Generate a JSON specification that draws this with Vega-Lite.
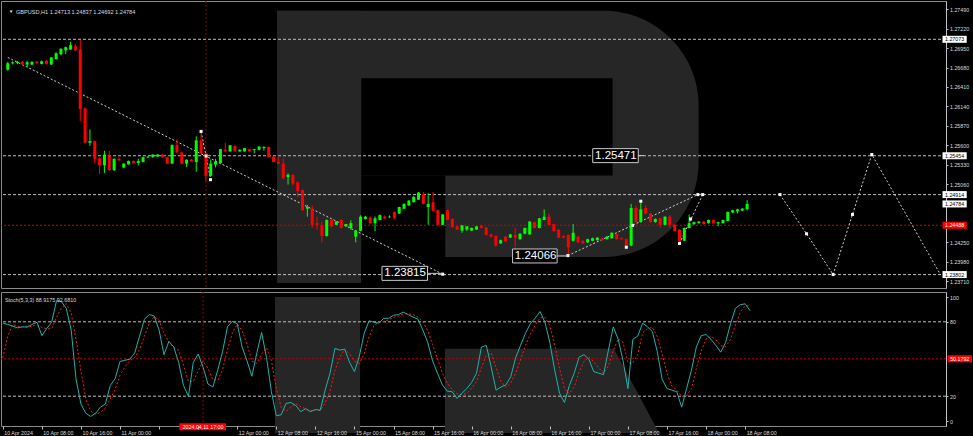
{
"$schema": "https://vega.github.io/schema/vega-lite/v6.json",
"background": "#000000",
"padding": 0,
"spacing": 2,
"config": {"view": {"stroke": "#8a8a8a", "strokeWidth": 1}, "font": "Liberation Sans", "axis": {"grid": false}},
"datasets": {
"candles": [
{"i":0,"o":1.26651,"h":1.26758,"l":1.26637,"c":1.26740},
{"i":1,"o":1.26738,"h":1.26765,"l":1.26724,"c":1.26751},
{"i":2,"o":1.26744,"h":1.26771,"l":1.26731,"c":1.26754},
{"i":3,"o":1.26758,"h":1.26771,"l":1.26718,"c":1.26731},
{"i":4,"o":1.26722,"h":1.26775,"l":1.26687,"c":1.26754},
{"i":5,"o":1.26722,"h":1.26771,"l":1.26711,"c":1.26758},
{"i":6,"o":1.26762,"h":1.26771,"l":1.26731,"c":1.26740},
{"i":7,"o":1.26731,"h":1.26778,"l":1.26724,"c":1.26767},
{"i":8,"o":1.26775,"h":1.26785,"l":1.26724,"c":1.26731},
{"i":9,"o":1.26722,"h":1.26825,"l":1.26718,"c":1.26821},
{"i":10,"o":1.26798,"h":1.26892,"l":1.26791,"c":1.26879},
{"i":11,"o":1.26865,"h":1.26946,"l":1.26852,"c":1.26942},
{"i":12,"o":1.26919,"h":1.26972,"l":1.26865,"c":1.26963},
{"i":13,"o":1.26932,"h":1.27036,"l":1.26926,"c":1.26990},
{"i":14,"o":1.26977,"h":1.27009,"l":1.26912,"c":1.26919},
{"i":15,"o":1.26932,"h":1.27066,"l":1.25935,"c":1.26104},
{"i":16,"o":1.26114,"h":1.26127,"l":1.25631,"c":1.25635},
{"i":17,"o":1.25635,"h":1.25819,"l":1.25591,"c":1.25658},
{"i":18,"o":1.25658,"h":1.25665,"l":1.25349,"c":1.25412},
{"i":19,"o":1.25420,"h":1.25430,"l":1.25201,"c":1.25322},
{"i":20,"o":1.25322,"h":1.25523,"l":1.25215,"c":1.25470},
{"i":21,"o":1.25456,"h":1.25523,"l":1.25242,"c":1.25255},
{"i":22,"o":1.25255,"h":1.25416,"l":1.25242,"c":1.25412},
{"i":23,"o":1.25412,"h":1.25430,"l":1.25382,"c":1.25389},
{"i":24,"o":1.25291,"h":1.25349,"l":1.25282,"c":1.25345},
{"i":25,"o":1.25336,"h":1.25389,"l":1.25329,"c":1.25380},
{"i":26,"o":1.25380,"h":1.25389,"l":1.25349,"c":1.25353},
{"i":27,"o":1.25353,"h":1.25412,"l":1.25322,"c":1.25380},
{"i":28,"o":1.25366,"h":1.25443,"l":1.25362,"c":1.25433},
{"i":29,"o":1.25431,"h":1.25450,"l":1.25420,"c":1.25443},
{"i":30,"o":1.25433,"h":1.25477,"l":1.25430,"c":1.25470},
{"i":31,"o":1.25443,"h":1.25477,"l":1.25439,"c":1.25470},
{"i":32,"o":1.25470,"h":1.25477,"l":1.25430,"c":1.25433},
{"i":33,"o":1.25433,"h":1.25443,"l":1.25336,"c":1.25345},
{"i":34,"o":1.25345,"h":1.25611,"l":1.25342,"c":1.25604},
{"i":35,"o":1.25604,"h":1.25680,"l":1.25497,"c":1.25501},
{"i":36,"o":1.25501,"h":1.25510,"l":1.25336,"c":1.25345},
{"i":37,"o":1.25345,"h":1.25403,"l":1.25299,"c":1.25399},
{"i":38,"o":1.25399,"h":1.25409,"l":1.25369,"c":1.25380},
{"i":39,"o":1.25366,"h":1.25725,"l":1.25232,"c":1.25667},
{"i":40,"o":1.25667,"h":1.25792,"l":1.25483,"c":1.25487},
{"i":41,"o":1.25487,"h":1.25497,"l":1.25094,"c":1.25175},
{"i":42,"o":1.25175,"h":1.25403,"l":1.25161,"c":1.25345},
{"i":43,"o":1.25332,"h":1.25412,"l":1.25291,"c":1.25376},
{"i":44,"o":1.25353,"h":1.25550,"l":1.25349,"c":1.25546},
{"i":45,"o":1.25537,"h":1.25635,"l":1.25510,"c":1.25514},
{"i":46,"o":1.25514,"h":1.25604,"l":1.25510,"c":1.25600},
{"i":47,"o":1.25591,"h":1.25598,"l":1.25510,"c":1.25514},
{"i":48,"o":1.25514,"h":1.25543,"l":1.25510,"c":1.25537},
{"i":49,"o":1.25514,"h":1.25564,"l":1.25510,"c":1.25560},
{"i":50,"o":1.25546,"h":1.25550,"l":1.25510,"c":1.25514},
{"i":51,"o":1.25533,"h":1.25550,"l":1.25487,"c":1.25546},
{"i":52,"o":1.25537,"h":1.25587,"l":1.25530,"c":1.25581},
{"i":53,"o":1.25560,"h":1.25584,"l":1.25523,"c":1.25577},
{"i":54,"o":1.25577,"h":1.25584,"l":1.25430,"c":1.25433},
{"i":55,"o":1.25443,"h":1.25450,"l":1.25362,"c":1.25366},
{"i":56,"o":1.25366,"h":1.25433,"l":1.25342,"c":1.25345},
{"i":57,"o":1.25345,"h":1.25412,"l":1.25121,"c":1.25144},
{"i":58,"o":1.25157,"h":1.25211,"l":1.25054,"c":1.25188},
{"i":59,"o":1.25188,"h":1.25201,"l":1.25040,"c":1.25067},
{"i":60,"o":1.25085,"h":1.25098,"l":1.24875,"c":1.24964},
{"i":61,"o":1.24977,"h":1.24987,"l":1.24691,"c":1.24696},
{"i":62,"o":1.24718,"h":1.24772,"l":1.24607,"c":1.24741},
{"i":63,"o":1.24718,"h":1.24759,"l":1.24450,"c":1.24494},
{"i":64,"o":1.24517,"h":1.24607,"l":1.24427,"c":1.24494},
{"i":65,"o":1.24486,"h":1.24540,"l":1.24249,"c":1.24339},
{"i":66,"o":1.24339,"h":1.24571,"l":1.24329,"c":1.24561},
{"i":67,"o":1.24561,"h":1.24571,"l":1.24459,"c":1.24473},
{"i":68,"o":1.24494,"h":1.24544,"l":1.24490,"c":1.24540},
{"i":69,"o":1.24561,"h":1.24571,"l":1.24443,"c":1.24450},
{"i":70,"o":1.24473,"h":1.24507,"l":1.24468,"c":1.24504},
{"i":71,"o":1.24450,"h":1.24557,"l":1.24423,"c":1.24517},
{"i":72,"o":1.24329,"h":1.24420,"l":1.24249,"c":1.24414},
{"i":73,"o":1.24410,"h":1.24625,"l":1.24406,"c":1.24607},
{"i":74,"o":1.24575,"h":1.24618,"l":1.24571,"c":1.24607},
{"i":75,"o":1.24594,"h":1.24611,"l":1.24510,"c":1.24517},
{"i":76,"o":1.24517,"h":1.24611,"l":1.24406,"c":1.24584},
{"i":77,"o":1.24561,"h":1.24638,"l":1.24557,"c":1.24629},
{"i":78,"o":1.24607,"h":1.24625,"l":1.24577,"c":1.24584},
{"i":79,"o":1.24598,"h":1.24625,"l":1.24591,"c":1.24607},
{"i":80,"o":1.24674,"h":1.24678,"l":1.24577,"c":1.24584},
{"i":81,"o":1.24651,"h":1.24745,"l":1.24644,"c":1.24741},
{"i":82,"o":1.24718,"h":1.24792,"l":1.24711,"c":1.24785},
{"i":83,"o":1.24763,"h":1.24839,"l":1.24759,"c":1.24830},
{"i":84,"o":1.24808,"h":1.24892,"l":1.24805,"c":1.24883},
{"i":85,"o":1.24843,"h":1.24951,"l":1.24839,"c":1.24942},
{"i":86,"o":1.24919,"h":1.24951,"l":1.24778,"c":1.24785},
{"i":87,"o":1.24741,"h":1.24933,"l":1.24494,"c":1.24785},
{"i":88,"o":1.24808,"h":1.24951,"l":1.24685,"c":1.24688},
{"i":89,"o":1.24696,"h":1.24705,"l":1.24490,"c":1.24494},
{"i":90,"o":1.24494,"h":1.24645,"l":1.24490,"c":1.24638},
{"i":91,"o":1.24696,"h":1.24705,"l":1.24557,"c":1.24561},
{"i":92,"o":1.24575,"h":1.24584,"l":1.24450,"c":1.24463},
{"i":93,"o":1.24473,"h":1.24477,"l":1.24423,"c":1.24427},
{"i":94,"o":1.24414,"h":1.24490,"l":1.24383,"c":1.24486},
{"i":95,"o":1.24427,"h":1.24477,"l":1.24410,"c":1.24473},
{"i":96,"o":1.24414,"h":1.24457,"l":1.24410,"c":1.24450},
{"i":97,"o":1.24427,"h":1.24477,"l":1.24423,"c":1.24473},
{"i":98,"o":1.24481,"h":1.24490,"l":1.24443,"c":1.24450},
{"i":99,"o":1.24459,"h":1.24463,"l":1.24347,"c":1.24352},
{"i":100,"o":1.24360,"h":1.24369,"l":1.24316,"c":1.24329},
{"i":101,"o":1.24339,"h":1.24347,"l":1.24196,"c":1.24205},
{"i":102,"o":1.24235,"h":1.24289,"l":1.24229,"c":1.24280},
{"i":103,"o":1.24329,"h":1.24333,"l":1.24255,"c":1.24262},
{"i":104,"o":1.24316,"h":1.24369,"l":1.24309,"c":1.24360},
{"i":105,"o":1.24352,"h":1.24450,"l":1.24182,"c":1.24316},
{"i":106,"o":1.24293,"h":1.24376,"l":1.24289,"c":1.24370},
{"i":107,"o":1.24370,"h":1.24457,"l":1.24363,"c":1.24450},
{"i":108,"o":1.24360,"h":1.24544,"l":1.24356,"c":1.24540},
{"i":109,"o":1.24531,"h":1.24537,"l":1.24443,"c":1.24450},
{"i":110,"o":1.24450,"h":1.24591,"l":1.24443,"c":1.24584},
{"i":111,"o":1.24561,"h":1.24709,"l":1.24557,"c":1.24607},
{"i":112,"o":1.24607,"h":1.24651,"l":1.24490,"c":1.24494},
{"i":113,"o":1.24504,"h":1.24510,"l":1.24400,"c":1.24406},
{"i":114,"o":1.24427,"h":1.24433,"l":1.24309,"c":1.24316},
{"i":115,"o":1.24339,"h":1.24347,"l":1.24309,"c":1.24316},
{"i":116,"o":1.24352,"h":1.24360,"l":1.24066,"c":1.24182},
{"i":117,"o":1.24272,"h":1.24504,"l":1.24262,"c":1.24383},
{"i":118,"o":1.24329,"h":1.24339,"l":1.24242,"c":1.24249},
{"i":119,"o":1.24272,"h":1.24276,"l":1.24229,"c":1.24235},
{"i":120,"o":1.24249,"h":1.24302,"l":1.24242,"c":1.24293},
{"i":121,"o":1.24272,"h":1.24316,"l":1.24267,"c":1.24307},
{"i":122,"o":1.24280,"h":1.24322,"l":1.24276,"c":1.24316},
{"i":123,"o":1.24307,"h":1.24316,"l":1.24276,"c":1.24280},
{"i":124,"o":1.24293,"h":1.24339,"l":1.24289,"c":1.24329},
{"i":125,"o":1.24307,"h":1.24390,"l":1.24302,"c":1.24383},
{"i":126,"o":1.24370,"h":1.24376,"l":1.24289,"c":1.24293},
{"i":127,"o":1.24307,"h":1.24316,"l":1.24289,"c":1.24293},
{"i":128,"o":1.24293,"h":1.24302,"l":1.24182,"c":1.24191},
{"i":129,"o":1.24205,"h":1.24785,"l":1.24196,"c":1.24728},
{"i":130,"o":1.24728,"h":1.24759,"l":1.24524,"c":1.24531},
{"i":131,"o":1.24531,"h":1.24822,"l":1.24524,"c":1.24709},
{"i":132,"o":1.24728,"h":1.24763,"l":1.24644,"c":1.24651},
{"i":133,"o":1.24651,"h":1.24658,"l":1.24524,"c":1.24531},
{"i":134,"o":1.24531,"h":1.24584,"l":1.24524,"c":1.24575},
{"i":135,"o":1.24584,"h":1.24591,"l":1.24450,"c":1.24494},
{"i":136,"o":1.24494,"h":1.24611,"l":1.24490,"c":1.24607},
{"i":137,"o":1.24607,"h":1.24629,"l":1.24450,"c":1.24494},
{"i":138,"o":1.24494,"h":1.24504,"l":1.24400,"c":1.24406},
{"i":139,"o":1.24427,"h":1.24433,"l":1.24235,"c":1.24272},
{"i":140,"o":1.24272,"h":1.24457,"l":1.24267,"c":1.24450},
{"i":141,"o":1.24450,"h":1.24638,"l":1.24443,"c":1.24517},
{"i":142,"o":1.24504,"h":1.24537,"l":1.24490,"c":1.24531},
{"i":143,"o":1.24517,"h":1.24544,"l":1.24510,"c":1.24540},
{"i":144,"o":1.24540,"h":1.24544,"l":1.24497,"c":1.24504},
{"i":145,"o":1.24517,"h":1.24567,"l":1.24510,"c":1.24561},
{"i":146,"o":1.24561,"h":1.24567,"l":1.24510,"c":1.24517},
{"i":147,"o":1.24513,"h":1.24537,"l":1.24473,"c":1.24531},
{"i":148,"o":1.24517,"h":1.24567,"l":1.24510,"c":1.24561},
{"i":149,"o":1.24548,"h":1.24678,"l":1.24544,"c":1.24674},
{"i":150,"o":1.24665,"h":1.24705,"l":1.24658,"c":1.24696},
{"i":151,"o":1.24682,"h":1.24718,"l":1.24651,"c":1.24709},
{"i":152,"o":1.24692,"h":1.24725,"l":1.24685,"c":1.24718},
{"i":153,"o":1.24713,"h":1.24837,"l":1.24692,"c":1.24784}
],
"stoch": [
{"i":0,"k":78.9,"d":51},{"i":1,"k":77.9,"d":68},{"i":2,"k":76.6,"d":77.8},{"i":3,"k":75.1,"d":76.5},{"i":4,"k":75.9,"d":75.9},
{"i":5,"k":75.9,"d":75.6},{"i":6,"k":77.9,"d":76.6},{"i":7,"k":79.6,"d":77.8},{"i":8,"k":68.9,"d":75.5},{"i":9,"k":74.6,"d":74.4},
{"i":10,"k":79.6,"d":74.4},{"i":11,"k":97.0,"d":83.7},{"i":12,"k":96.3,"d":91.0},{"i":13,"k":90.8,"d":94.7},{"i":14,"k":73.4,"d":86.8},
{"i":15,"k":33.6,"d":65.9},{"i":16,"k":13.7,"d":40.2},{"i":17,"k":6.2,"d":17.8},{"i":18,"k":3.7,"d":7.9},{"i":19,"k":6.2,"d":5.4},
{"i":20,"k":11.2,"d":7.0},{"i":21,"k":13.7,"d":10.4},{"i":22,"k":28.6,"d":17.8},{"i":23,"k":34.1,"d":25.5},{"i":24,"k":48.0,"d":36.9},
{"i":25,"k":49.0,"d":43.7},{"i":26,"k":49.8,"d":48.9},{"i":27,"k":54.7,"d":51.2},{"i":28,"k":68.4,"d":57.6},{"i":29,"k":82.1,"d":68.4},
{"i":30,"k":85.8,"d":78.8},{"i":31,"k":84.6,"d":84.2},{"i":32,"k":73.4,"d":81.3},{"i":33,"k":53.5,"d":70.5},{"i":34,"k":64.2,"d":63.7},
{"i":35,"k":59.7,"d":59.1},{"i":36,"k":47.3,"d":57.1},{"i":37,"k":28.6,"d":45.2},{"i":38,"k":19.9,"d":31.9},{"i":39,"k":47.3,"d":31.9},
{"i":40,"k":54.0,"d":40.4},{"i":41,"k":43.5,"d":48.3},{"i":42,"k":29.9,"d":42.5},{"i":43,"k":27.4,"d":33.6},{"i":44,"k":41.0,"d":32.8},
{"i":45,"k":56.0,"d":41.5},{"i":46,"k":75.9,"d":57.6},{"i":47,"k":80.4,"d":70.8},{"i":48,"k":78.4,"d":78.2},{"i":49,"k":59.7,"d":72.8},
{"i":50,"k":48.5,"d":62.2},{"i":51,"k":36.1,"d":48.1},{"i":52,"k":54.7,"d":46.4},{"i":53,"k":71.4,"d":54.1},{"i":54,"k":51.0,"d":59.0},
{"i":55,"k":23.6,"d":48.7},{"i":56,"k":4.2,"d":26.3},{"i":57,"k":5.0,"d":10.9},{"i":58,"k":14.2,"d":7.8},{"i":59,"k":14.9,"d":11.4},
{"i":60,"k":12.4,"d":13.8},{"i":61,"k":7.5,"d":11.6},{"i":62,"k":9.9,"d":9.9},{"i":63,"k":7.5,"d":8.3},{"i":64,"k":9.2,"d":8.9},
{"i":65,"k":8.7,"d":8.5},{"i":66,"k":24.9,"d":14.3},{"i":67,"k":38.6,"d":24.1},{"i":68,"k":58.5,"d":40.7},{"i":69,"k":57.2,"d":51.4},
{"i":70,"k":57.9,"d":57.9},{"i":71,"k":47.3,"d":54.1},{"i":72,"k":39.8,"d":48.3},{"i":73,"k":52.2,"d":46.4},{"i":74,"k":70.9,"d":54.3},
{"i":75,"k":80.8,"d":68.0},{"i":76,"k":79.6,"d":77.1},{"i":77,"k":78.9,"d":79.8},{"i":78,"k":82.8,"d":80.4},{"i":79,"k":82.8,"d":81.5},
{"i":80,"k":85.3,"d":83.6},{"i":81,"k":85.8,"d":84.6},{"i":82,"k":87.8,"d":86.3},{"i":83,"k":85.8,"d":86.5},{"i":84,"k":83.8,"d":85.8},
{"i":85,"k":82.1,"d":83.9},{"i":86,"k":73.4,"d":79.8},{"i":87,"k":63.4,"d":73.0},{"i":88,"k":48.5,"d":61.8},{"i":89,"k":38.6,"d":50.2},
{"i":90,"k":29.1,"d":38.7},{"i":91,"k":24.1,"d":30.6},{"i":92,"k":23.6,"d":25.6},{"i":93,"k":18.2,"d":22.0},{"i":94,"k":22.4,"d":21.4},
{"i":95,"k":26.1,"d":22.2},{"i":96,"k":31.1,"d":26.5},{"i":97,"k":38.6,"d":31.9},{"i":98,"k":59.7,"d":43.1},{"i":99,"k":60.9,"d":53.1},
{"i":100,"k":43.5,"d":54.7},{"i":101,"k":24.9,"d":43.1},{"i":102,"k":27.4,"d":31.9},{"i":103,"k":29.1,"d":27.1},{"i":104,"k":35.6,"d":30.7},
{"i":105,"k":51.0,"d":38.6},{"i":106,"k":60.9,"d":49.2},{"i":107,"k":70.6,"d":60.8},{"i":108,"k":78.4,"d":70.0},{"i":109,"k":83.0,"d":77.3},
{"i":110,"k":88.3,"d":83.2},{"i":111,"k":79.6,"d":83.6},{"i":112,"k":63.4,"d":77.1},{"i":113,"k":41.0,"d":61.3},{"i":114,"k":22.4,"d":42.3},
{"i":115,"k":14.9,"d":26.1},{"i":116,"k":28.6,"d":22.0},{"i":117,"k":38.6,"d":27.4},{"i":118,"k":51.5,"d":39.6},{"i":119,"k":53.5,"d":47.9},
{"i":120,"k":49.8,"d":51.6},{"i":121,"k":39.8,"d":47.7},{"i":122,"k":38.6,"d":42.7},{"i":123,"k":37.3,"d":38.6},{"i":124,"k":57.2,"d":44.4},
{"i":125,"k":75.9,"d":56.8},{"i":126,"k":65.9,"d":66.3},{"i":127,"k":48.5,"d":63.4},{"i":128,"k":26.1,"d":46.8},{"i":129,"k":65.9,"d":46.8},
{"i":130,"k":68.4,"d":53.5},{"i":131,"k":78.9,"d":71.1},{"i":132,"k":75.9,"d":74.4},{"i":133,"k":72.1,"d":75.6},{"i":134,"k":56.0,"d":68.0},
{"i":135,"k":33.6,"d":53.9},{"i":136,"k":26.1,"d":38.6},{"i":137,"k":24.9,"d":28.2},{"i":138,"k":23.6,"d":24.9},{"i":139,"k":11.2,"d":19.9},
{"i":140,"k":26.1,"d":20.3},{"i":141,"k":41.0,"d":26.1},{"i":142,"k":59.7,"d":42.3},{"i":143,"k":68.9,"d":56.5},{"i":144,"k":69.7,"d":66.1},
{"i":145,"k":65.9,"d":68.2},{"i":146,"k":60.9,"d":65.5},{"i":147,"k":55.5,"d":60.8},{"i":148,"k":63.4,"d":59.9},{"i":149,"k":78.4,"d":65.8},
{"i":150,"k":90.8,"d":77.5},{"i":151,"k":93.8,"d":87.7},{"i":152,"k":94.5,"d":93.0},{"i":153,"k":88.9175,"d":92.681}
],
"wmMain": [
{"part":"stem","a":55.73,"b":73.14,"p0":1.23685,"p1":1.27469},
{"part":"cut","a":73.14,"b":125.15,"p0":1.25179,"p1":1.2653},
{"part":"gap","a":73.14,"b":90.54,"p0":1.23685,"p1":1.25179}
],
"wmBowl": [{"a":55.73,"b":142.96,"p0":1.24048,"p1":1.27469}],
"wmStem": [{"a":55.73,"b":73.14,"v0":-9.7,"v1":100}],
"wmLeg": [{"i":90.54,"top":58.2,"bot":-9.7},{"i":125.15,"top":58.2,"bot":-9.7},{"i":134.36,"top":-9.7,"bot":-9.7}],
"levels": [{"p":1.27073},{"p":1.25454},{"p":1.24914},{"p":1.23802}],
"paths": [
{"g":"A","i":0,"p":1.26821},{"g":"A","i":90,"p":1.23808},
{"g":"B","i":40,"p":1.25792},{"g":"B","i":41.05,"p":1.2545},{"g":"B","i":41.95,"p":1.25121},
{"g":"C","i":115.9,"p":1.24066},{"g":"C","i":142.8,"p":1.24914},
{"g":"D","i":139,"p":1.24235},{"g":"D","i":143.8,"p":1.24914},
{"g":"E","i":159.8,"p":1.24914},{"g":"E","i":165.3,"p":1.24369},{"g":"E","i":170.8,"p":1.23802},{"g":"E","i":174.8,"p":1.24638},{"g":"E","i":178.8,"p":1.25471},{"g":"E","i":193.0,"p":1.23802}
],
"markers": [
{"i":40,"p":1.25792},{"i":41.05,"p":1.2545},{"i":41.95,"p":1.25121},{"i":90,"p":1.23808},
{"i":115.9,"p":1.24066},{"i":128,"p":1.24182},{"i":129.3,"p":1.24486},{"i":131,"p":1.24822},{"i":139,"p":1.24235},
{"i":141.3,"p":1.24575},{"i":142.8,"p":1.24914},{"i":143.8,"p":1.24914},{"i":159.8,"p":1.24914},{"i":165.3,"p":1.24369},
{"i":170.8,"p":1.23802},{"i":174.8,"p":1.24638},{"i":178.8,"p":1.25471}
],
"callouts": [
{"t":"1.25471","p":1.25456,"a":121.05,"b":130.47,"e":131.6},
{"t":"1.24066","p":1.24061,"a":104.46,"b":113.68,"e":115.9},
{"t":"1.23815","p":1.23819,"a":77.44,"b":86.86,"e":90}
],
"tags": [
{"p":1.27073,"t":"1.27073","k":"w"},{"p":1.25454,"t":"1.25454","k":"w"},{"p":1.24914,"t":"1.24914","k":"w"},
{"p":1.24784,"t":"1.24784","k":"w"},{"p":1.24488,"t":"1.24488","k":"r"},{"p":1.23802,"t":"1.23802","k":"w"}
]
},
"vconcat": [
{
"width": 945,
"height": 287,
"layer": [
{"data": {"name": "candles"}, "mark": {"type": "rule", "strokeWidth": 1, "opacity": 0},
 "encoding": {
  "x": {"field": "i", "type": "quantitative", "scale": {"domain": [-0.3686, 193.12], "nice": false, "zero": false}, "axis": null},
  "y": {"field": "l", "type": "quantitative", "scale": {"domain": [1.23685, 1.27536], "nice": false, "zero": false},
   "axis": {"orient": "right", "title": null, "tickCount": 40, "values": [1.2749, 1.2722, 1.2695, 1.2668, 1.2641, 1.2614, 1.2587, 1.256, 1.2533, 1.2506, 1.2425, 1.2398, 1.2371], "format": ".5f",
    "labelOverlap": false, "labelFontSize": 5.3, "labelFont": "Liberation Sans", "labelColor": "#dcdcdc", "tickColor": "#c0c0c0", "tickSize": 2, "domainColor": "#c0c0c0", "labelPadding": 1.5, "grid": false}}}},
{"data": {"name": "wmBowl"}, "mark": {"type": "rect", "color": "#262626", "cornerRadiusTopRight": 95, "cornerRadiusBottomRight": 95},
 "encoding": {"x": {"field": "a", "type": "quantitative", "axis": null}, "x2": {"field": "b"}, "y": {"field": "p0", "type": "quantitative", "axis": {"title": null}}, "y2": {"field": "p1"}}},
{"data": {"name": "wmMain"}, "mark": {"type": "rect"},
 "encoding": {"x": {"field": "a", "type": "quantitative", "axis": null}, "x2": {"field": "b"}, "y": {"field": "p0", "type": "quantitative", "axis": {"title": null}}, "y2": {"field": "p1"},
  "color": {"condition": {"test": "datum.part === 'stem'", "value": "#262626"}, "value": "#000000"}}},
{"data": {"name": "levels"}, "mark": {"type": "rule", "color": "#bdbdbd", "strokeDash": [3, 2], "strokeWidth": 1},
 "encoding": {"y": {"field": "p", "type": "quantitative", "axis": {"title": null}}}},
{"data": {"values": [{"p": 1.24488}]}, "mark": {"type": "rule", "color": "#d00000", "strokeDash": [2, 2], "strokeWidth": 1},
 "encoding": {"y": {"field": "p", "type": "quantitative", "axis": {"title": null}}}},
{"data": {"values": [{"i": 41}]}, "mark": {"type": "rule", "color": "#a00000", "strokeDash": [2, 2], "strokeWidth": 1},
 "encoding": {"x": {"field": "i", "type": "quantitative", "axis": null}}},
{"data": {"name": "paths"}, "mark": {"type": "line", "color": "#d0d0d0", "strokeDash": [2, 2], "strokeWidth": 1},
 "encoding": {"x": {"field": "i", "type": "quantitative", "axis": null}, "y": {"field": "p", "type": "quantitative", "axis": {"title": null}}, "detail": {"field": "g"}}},
{"data": {"name": "candles"}, "mark": {"type": "rule", "strokeWidth": 1},
 "encoding": {
  "x": {"field": "i", "type": "quantitative", "axis": null},
  "y": {"field": "l", "type": "quantitative", "axis": {"title": null}},
  "y2": {"field": "h"},
  "color": {"condition": {"test": "datum.c >= datum.o", "value": "#00ff00"}, "value": "#ff0000"}}},
{"data": {"name": "candles"}, "mark": {"type": "bar", "size": 3, "orient": "vertical"},
 "encoding": {
  "x": {"field": "i", "type": "quantitative", "axis": null},
  "y": {"field": "o", "type": "quantitative", "axis": {"title": null}},
  "y2": {"field": "c"},
  "color": {"condition": {"test": "datum.c >= datum.o", "value": "#00ff00"}, "value": "#ff0000"}}},
{"data": {"name": "markers"}, "mark": {"type": "point", "shape": "square", "filled": true, "size": 9, "color": "#ffffff", "opacity": 1},
 "encoding": {"x": {"field": "i", "type": "quantitative", "axis": null}, "y": {"field": "p", "type": "quantitative", "axis": {"title": null}}}},
{"data": {"name": "callouts"}, "mark": {"type": "rule", "color": "#d0d0d0", "strokeWidth": 1},
 "encoding": {"x": {"field": "b", "type": "quantitative", "axis": null}, "x2": {"field": "e"}, "y": {"field": "p", "type": "quantitative", "axis": {"title": null}}}},
{"data": {"name": "callouts"}, "mark": {"type": "bar", "orient": "horizontal", "size": 14, "fill": "#000000", "stroke": "#c8c8c8", "strokeWidth": 1},
 "encoding": {"x": {"field": "a", "type": "quantitative", "axis": null}, "x2": {"field": "b"}, "y": {"field": "p", "type": "quantitative", "axis": {"title": null}}}},
{"data": {"name": "callouts"}, "mark": {"type": "text", "align": "left", "baseline": "middle", "dx": 2.3, "fontSize": 11.5, "font": "Liberation Sans", "color": "#ffffff"},
 "encoding": {"x": {"field": "a", "type": "quantitative", "axis": null}, "y": {"field": "p", "type": "quantitative", "axis": {"title": null}}, "text": {"field": "t"}}},
{"data": {"name": "tags"}, "mark": {"type": "bar", "orient": "horizontal", "size": 7},
 "encoding": {"x": {"datum": 193.43, "type": "quantitative", "axis": null}, "x2": {"datum": 198.44}, "y": {"field": "p", "type": "quantitative", "axis": {"title": null}},
  "color": {"condition": {"test": "datum.k === 'r'", "value": "#ff0000"}, "value": "#ffffff"}}},
{"data": {"name": "tags"}, "mark": {"type": "text", "align": "center", "baseline": "middle", "fontSize": 5.3, "font": "Liberation Sans"},
 "encoding": {"x": {"datum": 195.93, "type": "quantitative", "axis": null}, "y": {"field": "p", "type": "quantitative", "axis": {"title": null}}, "text": {"field": "t"},
  "color": {"condition": {"test": "datum.k === 'r'", "value": "#ffffff"}, "value": "#000000"}}},
{"data": {"values": [{"t": "GBPUSD,H1  1.24713 1.24837 1.24692 1.24784", "i": 1.68, "p": 1.27456}]}, "mark": {"type": "text", "align": "left", "baseline": "middle", "fontSize": 5.6, "font": "Liberation Sans", "color": "#dcdcdc"},
 "encoding": {"x": {"field": "i", "type": "quantitative", "axis": null}, "y": {"field": "p", "type": "quantitative", "axis": {"title": null}}, "text": {"field": "t"}}},
{"data": {"values": [{"i": 0.7, "p": 1.27456}]}, "mark": {"type": "point", "shape": "triangle-down", "filled": true, "size": 10, "color": "#e0e0e0", "opacity": 1},
 "encoding": {"x": {"field": "i", "type": "quantitative", "axis": null}, "y": {"field": "p", "type": "quantitative", "axis": {"title": null}}}}
]
},
{
"width": 945,
"height": 134,
"layer": [
{"data": {"name": "stoch"}, "mark": {"type": "line", "color": "#20b2aa", "strokeWidth": 1, "opacity": 0},
 "encoding": {
  "x": {"field": "i", "type": "quantitative", "scale": {"domain": [-0.3686, 193.12], "nice": false, "zero": false},
   "axis": {"orient": "bottom", "title": null, "zindex": 1, "tickCount": 40, "values": [0, 8, 16, 24, 32, 40, 48, 56, 64, 72, 80, 88, 96, 104, 112, 120, 128, 136, 144, 152],
    "labelExpr": "['10 Apr 2024','10 Apr 08:00','10 Apr 16:00','11 Apr 00:00','','','12 Apr 00:00','12 Apr 08:00','12 Apr 16:00','15 Apr 00:00','15 Apr 08:00','15 Apr 16:00','16 Apr 00:00','16 Apr 08:00','16 Apr 16:00','17 Apr 00:00','17 Apr 08:00','17 Apr 16:00','18 Apr 00:00','18 Apr 08:00'][round(datum.value/8)]",
    "labelAlign": "left", "labelOffset": 1, "labelPadding": 1, "labelBaseline": "top", "labelOverlap": false, "labelFlush": false, "labelBound": false,
    "labelFontSize": 5.3, "labelFont": "Liberation Sans", "labelColor": "#dcdcdc", "tickColor": "#c0c0c0", "tickSize": 3, "domain": false, "grid": false}},
  "y": {"field": "k", "type": "quantitative", "scale": {"domain": [0, 100], "nice": false, "zero": false},
   "axis": {"orient": "right", "title": null, "tickCount": 20, "values": [0, 20, 80, 100], "labelFlush": true, "labelOverlap": false, "format": "d",
    "labelFontSize": 5.3, "labelFont": "Liberation Sans", "labelColor": "#dcdcdc", "tickColor": "#c0c0c0", "tickSize": 2, "domainColor": "#c0c0c0", "labelPadding": 1.5, "grid": false}}}},
{"data": {"name": "wmStem"}, "mark": {"type": "rect", "color": "#262626"},
 "encoding": {"x": {"field": "a", "type": "quantitative", "axis": {"title": null}}, "x2": {"field": "b"}, "y": {"field": "v0", "type": "quantitative", "axis": {"title": null}}, "y2": {"field": "v1"}}},
{"data": {"name": "wmLeg"}, "mark": {"type": "area", "color": "#262626", "opacity": 1},
 "encoding": {"x": {"field": "i", "type": "quantitative", "axis": {"title": null}}, "y": {"field": "top", "type": "quantitative", "axis": {"title": null}}, "y2": {"field": "bot"}}},
{"data": {"values": [{"v": 80}, {"v": 20}]}, "mark": {"type": "rule", "color": "#bdbdbd", "strokeDash": [3, 2], "strokeWidth": 1},
 "encoding": {"y": {"field": "v", "type": "quantitative", "axis": {"title": null}}}},
{"data": {"values": [{"v": 50.1792}]}, "mark": {"type": "rule", "color": "#c00000", "strokeDash": [2, 2], "strokeWidth": 1},
 "encoding": {"y": {"field": "v", "type": "quantitative", "axis": {"title": null}}}},
{"data": {"values": [{"i": 41}]}, "mark": {"type": "rule", "color": "#a00000", "strokeDash": [2, 2], "strokeWidth": 1},
 "encoding": {"x": {"field": "i", "type": "quantitative", "axis": {"title": null}}}},
{"data": {"name": "stoch"}, "mark": {"type": "line", "color": "#ff1a1a", "strokeDash": [2, 2], "strokeWidth": 1},
 "encoding": {"x": {"field": "i", "type": "quantitative", "axis": {"title": null}}, "y": {"field": "d", "type": "quantitative", "axis": {"title": null}}}},
{"data": {"name": "stoch"}, "mark": {"type": "line", "color": "#20b2aa", "strokeWidth": 1},
 "encoding": {"x": {"field": "i", "type": "quantitative", "axis": {"title": null}}, "y": {"field": "k", "type": "quantitative", "axis": {"title": null}}}},
{"data": {"values": [{"t": "Stoch(5,3,3) 88.9175 92.6810", "i": 0.45, "v": 97.5}]}, "mark": {"type": "text", "align": "left", "baseline": "middle", "fontSize": 5.4, "font": "Liberation Sans", "color": "#dcdcdc"},
 "encoding": {"x": {"field": "i", "type": "quantitative", "axis": {"title": null}}, "y": {"field": "v", "type": "quantitative", "axis": {"title": null}}, "text": {"field": "t"}}},
{"data": {"values": [{"v": 50.1792, "t": "50.1792"}]}, "mark": {"type": "bar", "orient": "horizontal", "size": 7, "color": "#ff0000"},
 "encoding": {"x": {"datum": 193.43, "type": "quantitative", "axis": {"title": null}}, "x2": {"datum": 198.44}, "y": {"field": "v", "type": "quantitative", "axis": {"title": null}}}},
{"data": {"values": [{"v": 50.1792, "t": "50.1792"}]}, "mark": {"type": "text", "align": "center", "baseline": "middle", "fontSize": 5.3, "font": "Liberation Sans", "color": "#ffffff"},
 "encoding": {"x": {"datum": 195.93, "type": "quantitative", "axis": {"title": null}}, "y": {"field": "v", "type": "quantitative", "axis": {"title": null}}, "text": {"field": "t"}}},
{"data": {"values": [{"v": -4.6, "t": "2024.04.11 17:00"}]}, "mark": {"type": "bar", "orient": "horizontal", "size": 7, "color": "#ff0000"},
 "encoding": {"x": {"datum": 36.14, "type": "quantitative", "axis": {"title": null}}, "x2": {"datum": 45.7}, "y": {"field": "v", "type": "quantitative", "axis": {"title": null}}}},
{"data": {"values": [{"v": -4.6, "t": "2024.04.11 17:00", "i": 41}]}, "mark": {"type": "text", "align": "center", "baseline": "middle", "fontSize": 5.3, "font": "Liberation Sans", "color": "#ffffff"},
 "encoding": {"x": {"field": "i", "type": "quantitative", "axis": {"title": null}}, "y": {"field": "v", "type": "quantitative", "axis": {"title": null}}, "text": {"field": "t"}}}
]
}
]
}
